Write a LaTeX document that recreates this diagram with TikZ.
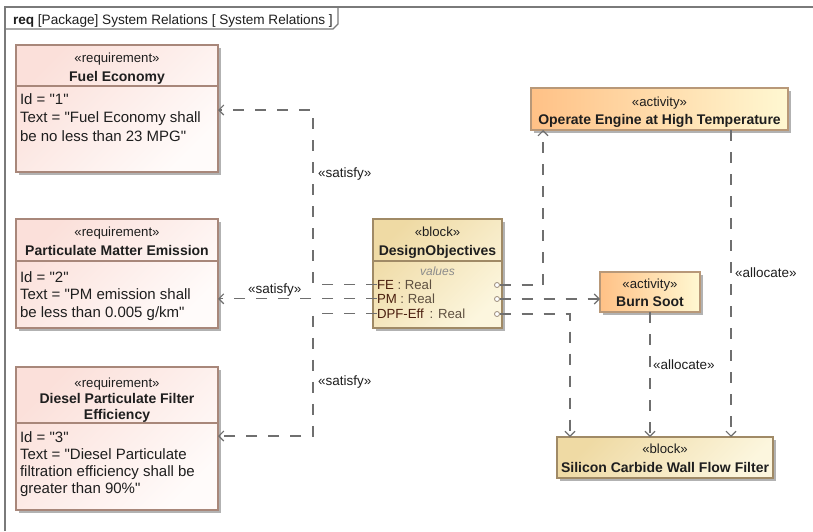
\documentclass[tikz,border=0pt]{standalone}
\usepackage{fontspec}
\setmainfont{Liberation Sans}[Ligatures=TeXOff]
\usetikzlibrary{arrows.meta,shadows,calc}
\definecolor{reqA}{HTML}{FBE0DA}
\definecolor{reqB}{HTML}{FFFBFA}
\definecolor{reqborder}{HTML}{A8877A}
\definecolor{blkA}{HTML}{EFDAA4}
\definecolor{blkB}{HTML}{FCF6DE}
\definecolor{blkborder}{HTML}{A08A66}
\definecolor{actA}{HTML}{FFC186}
\definecolor{actB}{HTML}{FFF8D2}
\definecolor{actborder}{HTML}{B89878}
\definecolor{linegray}{HTML}{6F6F6F}
\definecolor{framegray}{HTML}{7A7A7A}
\definecolor{txt}{HTML}{1E1E1E}
\definecolor{attrname}{HTML}{4A1E0E}
\definecolor{attrval}{HTML}{5E5040}
\definecolor{portc}{HTML}{9A8A78}
\begin{document}
\begin{tikzpicture}[x=1pt,y=-1pt,
  every node/.style={inner sep=0pt,outer sep=0pt},
  shd/.style={drop shadow={shadow xshift=2.5pt,shadow yshift=-2.5pt,fill=black!55,opacity=0.55}},
  reqbox/.style={anchor=north west,draw=reqborder,line width=1.3pt,top color=reqA,bottom color=reqB,shading angle=45,shd},
  blkbox/.style={anchor=north west,draw=blkborder,line width=1.3pt,top color=blkA,bottom color=blkB,shading angle=45,shd},
  actbox/.style={anchor=north west,draw=actborder,line width=1.3pt,left color=actA,right color=actB,shd},
  reqsep/.style={draw=reqborder,line width=1.1pt},
  blksep/.style={draw=blkborder,line width=1.1pt},
  frameline/.style={draw=framegray,line width=1.4pt},
  dep/.style={draw=linegray,line width=1.3pt,dash pattern=on 11pt off 11pt,-{Straight Barb[length=5pt,width=10pt,line width=1.1pt]}},
  stereo/.style={font=\fontsize{13.2}{15}\selectfont,text=txt},
  nm/.style={font=\fontsize{14}{16}\selectfont\bfseries,text=txt},
  body/.style={font=\fontsize{15}{17}\selectfont,text=txt,anchor=base west},
  lbl/.style={font=\fontsize{13.5}{16}\selectfont,text=txt,anchor=base west},
  attr/.style={font=\fontsize{13.2}{15}\selectfont,text=attrval,anchor=base west},
  valsty/.style={font=\fontsize{12}{14}\selectfont\itshape,text=black!45},
  hdr/.style={font=\fontsize{13.6}{16}\selectfont,text=txt,anchor=base west},
  port/.style={circle,draw=portc,fill=white,minimum size=5pt,line width=0.8pt}
]
\useasboundingbox (0,0) rectangle (813,531);
\fill[white] (0,0) rectangle (813,531);

% frame
\draw[frameline] (5,531) -- (5,7) -- (813,7);
\draw[frameline] (5,29) -- (333,29) -- (338,24) -- (338,7);
\node[hdr] (title) at (13,24) {\textbf{req} [Package] System Relations [ System Relations ]};

% requirement: Fuel Economy
\node[reqbox,minimum width=202pt,minimum height=127pt] (fuel) at (16,45) {};
\draw[reqsep] ([yshift=-41pt]fuel.north west) -- ([yshift=-41pt]fuel.north east);
\node[stereo,anchor=base] (fuelS) at (117,62.5) {«requirement»};
\node[nm,anchor=base] (fuelN) at (117,81) {Fuel Economy};
\node[body] (fuel1) at (20,104) {Id = "1"};
\node[body] (fuel2) at (20,122.5) {Text = "Fuel Economy shall};
\node[body] (fuel3) at (20,141) {be no less than 23 MPG"};

% requirement: Particulate Matter Emission
\node[reqbox,minimum width=202pt,minimum height=109pt] (pme) at (16,219) {};
\draw[reqsep] ([yshift=-42pt]pme.north west) -- ([yshift=-42pt]pme.north east);
\node[stereo,anchor=base] (pmeS) at (117,236.5) {«requirement»};
\node[nm,anchor=base] (pmeN) at (117,255) {Particulate Matter Emission};
\node[body] (pme1) at (20,282) {Id = "2"};
\node[body] (pme2) at (20,299.5) {Text = "PM emission shall};
\node[body] (pme3) at (20,317) {be less than 0.005 g/km"};

% requirement: Diesel Particulate Filter Efficiency
\node[reqbox,minimum width=202pt,minimum height=143pt] (dpf) at (16,367) {};
\draw[reqsep] ([yshift=-56pt]dpf.north west) -- ([yshift=-56pt]dpf.north east);
\node[stereo,anchor=base] (dpfS) at (117,387.5) {«requirement»};
\node[nm,anchor=base] (dpfN1) at (117,403) {Diesel Particulate Filter};
\node[nm,anchor=base] (dpfN2) at (117,419) {Efficiency};
\node[body] (dpf1) at (20,442) {Id = "3"};
\node[body] (dpf2) at (20,459) {Text = "Diesel Particulate};
\node[body] (dpf3) at (20,476) {filtration efficiency shall be};
\node[body] (dpf4) at (20,493) {greater than 90\%"};

% block: DesignObjectives
\node[blkbox,minimum width=129pt,minimum height=109pt] (dobj) at (373,219) {};
\draw[blksep] ([yshift=-42pt]dobj.north west) -- ([yshift=-42pt]dobj.north east);
\node[stereo,anchor=base] (dobjS) at (437.5,236.5) {«block»};
\node[nm,anchor=base] (dobjN) at (437.5,255) {DesignObjectives};
\node[valsty,anchor=base] (dobjV) at (437.5,275) {values};
\node[attr] (aFE) at (377,289.5) {\textcolor{attrname}{FE} : Real};
\node[attr] (aPM) at (377,303.5) {\textcolor{attrname}{PM} : Real};
\node[attr] (aDPF) at (377,318.5) {\textcolor{attrname}{DPF-Eff} \,: Real};
\node[port] (pFE) at (497,285) {};
\node[port] (pPM) at (497,299) {};
\node[port] (pDPF) at (497,314) {};

% activity: Operate Engine at High Temperature
\node[actbox,minimum width=257pt,minimum height=42pt] (oper) at (531,88) {};
\node[stereo,anchor=base] (operS) at (659.5,106.5) {«activity»};
\node[nm,anchor=base] (operN) at (659.5,124) {Operate Engine at High Temperature};

% activity: Burn Soot
\node[actbox,minimum width=100pt,minimum height=40pt] (burn) at (600,272) {};
\node[stereo,anchor=base] (burnS) at (650,288.5) {«activity»};
\node[nm,anchor=base] (burnN) at (650,306) {Burn Soot};

% block: Silicon Carbide Wall Flow Filter
\node[blkbox,minimum width=216pt,minimum height=41pt] (filt) at (557,437) {};
\node[stereo,anchor=base] (filtS) at (665,453.5) {«block»};
\node[nm,anchor=base] (filtN) at (665,472) {Silicon Carbide Wall Flow Filter};

% satisfy connectors
\coordinate (k1) at (313,110);
\coordinate (k3) at (313,436);
\draw[dep] (aFE.west) -| (k1) -- (k1 -| fuel.east);
\draw[dep] (aPM.west) -- (aPM.west -| pme.east);
\draw[dep] (aDPF.west) -| (k3) -- (k3 -| dpf.east);
\node[lbl] (sat1) at (318,177.5) {«satisfy»};
\node[lbl] (sat2) at (248,293.5) {«satisfy»};
\node[lbl] (sat3) at (318,385.5) {«satisfy»};

% ports to activities / filter
\coordinate (k4) at (543,200);
\coordinate (k6) at (570,380);
\coordinate (k8) at (731,300);
\draw[dep] (pFE.east) -| (k4 |- oper.south);
\draw[dep] (pPM.east) -- (pPM.east -| burn.west);
\draw[dep] (pDPF.east) -| (k6 |- filt.north);

% allocate connectors
\draw[dep] (burn.south) -- (burn.south |- filt.north);
\draw[dep] (k8 |- oper.south) -- (k8 |- filt.north);
\node[lbl] (al1) at (653,369.5) {«allocate»};
\node[lbl] (al2) at (735,277.5) {«allocate»};
\end{tikzpicture}
\end{document}
